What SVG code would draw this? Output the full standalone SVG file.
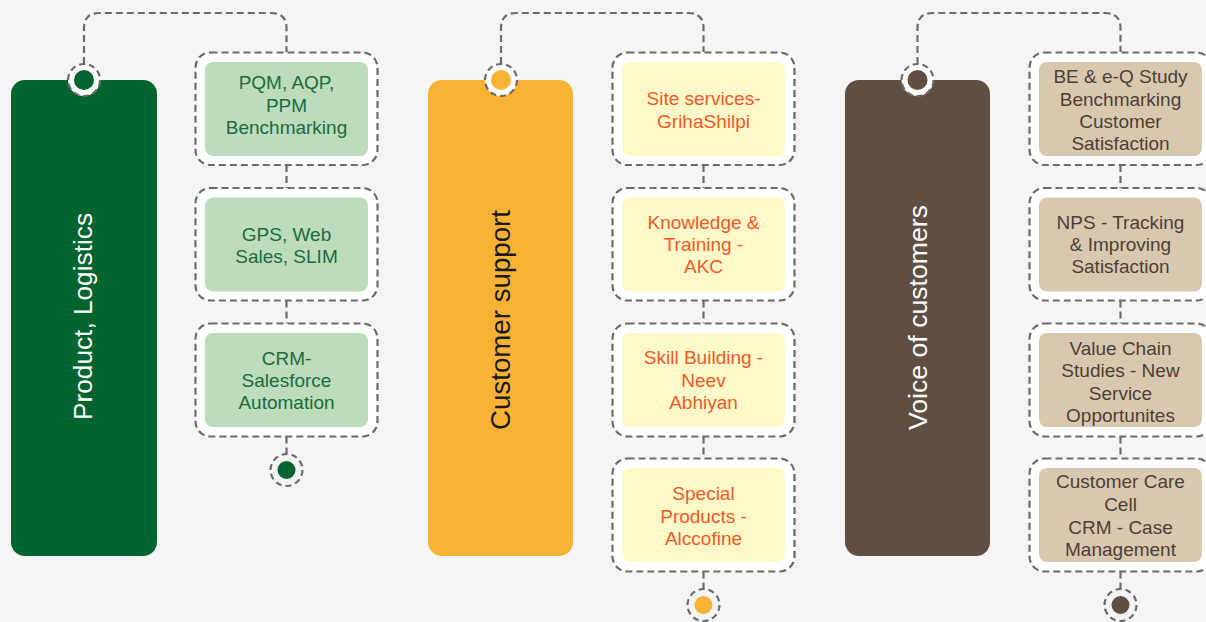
<svg xmlns="http://www.w3.org/2000/svg" width="1206" height="622" viewBox="0 0 1206 622">
<style>
.bg{fill:#f5f5f5}
.dash{fill:none;stroke:#6b6b6b;stroke-width:2.2;stroke-dasharray:7 4}
.outer{fill:#ffffff;stroke:#6b6b6b;stroke-width:2.2;stroke-dasharray:7 4}
.ring{fill:#ffffff;stroke:#6b6b6b;stroke-width:2.2;stroke-dasharray:6 4}
.bring{fill:#f5f5f5;stroke:#6b6b6b;stroke-width:2.2;stroke-dasharray:6 4}
.t{font-family:"Liberation Sans",Arial,sans-serif;font-size:19px;text-anchor:middle}
.v{font-family:"Liberation Sans",Arial,sans-serif;text-anchor:middle}
.g1{fill:#bcdcbc}.c1{fill:#1d6b3c}.k1{fill:#00642f}
.g2{fill:#fff8c8}.c2{fill:#f15a29}.k2{fill:#f9b233}
.g3{fill:#d8c8b0}.c3{fill:#4d3f35}.k3{fill:#5f4e42}
</style>
<rect class="bg" x="0" y="0" width="1206" height="622"/>

<g id="connectors">
<path class="dash" d="M84 64 V28 Q84 13 99 13 H271 Q286.5 13 286.5 28 V52"/>
<path class="dash" d="M286.5 165 V188 M286.5 300.5 V323.5 M286.5 436.5 V454"/>
<path class="dash" d="M501 64 V28 Q501 13 516 13 H688 Q703.5 13 703.5 28 V52"/>
<path class="dash" d="M703.5 165 V188 M703.5 300.5 V323.5 M703.5 436.5 V458.5 M703.5 571.5 V589"/>
<path class="dash" d="M917.5 64 V28 Q917.5 13 932.5 13 H1105 Q1120.5 13 1120.5 28 V52"/>
<path class="dash" d="M1120.5 165 V188 M1120.5 300.5 V323.5 M1120.5 436.5 V458.5 M1120.5 571.5 V589"/>
</g>

<g id="col1-bar">
<rect class="k1" x="11" y="80" width="146" height="476" rx="14"/>
<circle class="ring" cx="84" cy="80" r="16"/>
<circle class="k1" cx="84" cy="80" r="10"/>
<text class="v" fill="#ffffff" font-size="26" transform="translate(92 316.5) rotate(-90)" textLength="207" lengthAdjust="spacingAndGlyphs">Product, Logistics</text>
</g>
<g id="col1-box1">
<rect class="outer" x="195.5" y="52.5" width="182" height="112.5" rx="15"/>
<rect class="g1" x="205" y="62" width="163" height="94" rx="8"/>
<text class="t c1" x="286.5" y="89">PQM, AQP,</text>
<text class="t c1" x="286.5" y="111.5">PPM</text>
<text class="t c1" x="286.5" y="134">Benchmarking</text>
</g>
<g id="col1-box2">
<rect class="outer" x="195.5" y="188" width="182" height="112.5" rx="15"/>
<rect class="g1" x="205" y="197.5" width="163" height="94" rx="8"/>
<text class="t c1" x="286.5" y="241">GPS, Web</text>
<text class="t c1" x="286.5" y="263">Sales, SLIM</text>
</g>
<g id="col1-box3">
<rect class="outer" x="195.5" y="323.5" width="182" height="113" rx="15"/>
<rect class="g1" x="205" y="333" width="163" height="94" rx="8"/>
<text class="t c1" x="286.5" y="365">CRM-</text>
<text class="t c1" x="286.5" y="387">Salesforce</text>
<text class="t c1" x="286.5" y="409">Automation</text>
</g>
<g id="col1-end">
<circle class="bring" cx="286.5" cy="470" r="16"/>
<circle class="k1" cx="286.5" cy="470" r="9"/>
</g>

<g id="col2-bar">
<rect class="k2" x="428" y="80" width="145" height="476" rx="14"/>
<circle class="ring" cx="501" cy="80" r="16"/>
<circle class="k2" cx="501" cy="80" r="10"/>
<text class="v" fill="#1a1a1a" font-size="27.5" transform="translate(510 320) rotate(-90)" textLength="220" lengthAdjust="spacingAndGlyphs">Customer support</text>
</g>
<g id="col2-box1">
<rect class="outer" x="612.5" y="52.5" width="182" height="112.5" rx="15"/>
<rect class="g2" x="622" y="62" width="163" height="94" rx="8"/>
<text class="t c2" x="703.5" y="104.5">Site services-</text>
<text class="t c2" x="703.5" y="127.5">GrihaShilpi</text>
</g>
<g id="col2-box2">
<rect class="outer" x="612.5" y="188" width="182" height="112.5" rx="15"/>
<rect class="g2" x="622" y="197.5" width="163" height="94" rx="8"/>
<text class="t c2" x="703.5" y="229">Knowledge &amp;</text>
<text class="t c2" x="703.5" y="251">Training -</text>
<text class="t c2" x="703.5" y="273">AKC</text>
</g>
<g id="col2-box3">
<rect class="outer" x="612.5" y="323.5" width="182" height="113" rx="15"/>
<rect class="g2" x="622" y="333" width="163" height="94" rx="8"/>
<text class="t c2" x="703.5" y="364">Skill Building -</text>
<text class="t c2" x="703.5" y="386.5">Neev</text>
<text class="t c2" x="703.5" y="409">Abhiyan</text>
</g>
<g id="col2-box4">
<rect class="outer" x="612.5" y="458.5" width="182" height="113" rx="15"/>
<rect class="g2" x="622" y="468" width="163" height="94" rx="8"/>
<text class="t c2" x="703.5" y="500">Special</text>
<text class="t c2" x="703.5" y="522.5">Products -</text>
<text class="t c2" x="703.5" y="544.5">Alccofine</text>
</g>
<g id="col2-end">
<circle class="bring" cx="703.5" cy="605" r="16"/>
<circle class="k2" cx="703.5" cy="605" r="9"/>
</g>

<g id="col3-bar">
<rect class="k3" x="845" y="80" width="145" height="476" rx="14"/>
<circle class="ring" cx="917.5" cy="80" r="16"/>
<circle class="k3" cx="917.5" cy="80" r="10"/>
<text class="v" fill="#ffffff" font-size="26.5" transform="translate(927 317.5) rotate(-90)" textLength="225" lengthAdjust="spacingAndGlyphs">Voice of customers</text>
</g>
<g id="col3-box1">
<rect class="outer" x="1029.5" y="52.5" width="182" height="112.5" rx="15"/>
<rect class="g3" x="1039" y="62" width="163" height="94" rx="8"/>
<text class="t c3" x="1120.5" y="83">BE &amp; e-Q Study</text>
<text class="t c3" x="1120.5" y="105.5">Benchmarking</text>
<text class="t c3" x="1120.5" y="128">Customer</text>
<text class="t c3" x="1120.5" y="150">Satisfaction</text>
</g>
<g id="col3-box2">
<rect class="outer" x="1029.5" y="188" width="182" height="112.5" rx="15"/>
<rect class="g3" x="1039" y="197.5" width="163" height="94" rx="8"/>
<text class="t c3" x="1120.5" y="228.5">NPS - Tracking</text>
<text class="t c3" x="1120.5" y="251">&amp; Improving</text>
<text class="t c3" x="1120.5" y="273">Satisfaction</text>
</g>
<g id="col3-box3">
<rect class="outer" x="1029.5" y="323.5" width="182" height="113" rx="15"/>
<rect class="g3" x="1039" y="333" width="163" height="94" rx="8"/>
<text class="t c3" x="1120.5" y="355">Value Chain</text>
<text class="t c3" x="1120.5" y="377">Studies - New</text>
<text class="t c3" x="1120.5" y="400">Service</text>
<text class="t c3" x="1120.5" y="421.5">Opportunites</text>
</g>
<g id="col3-box4">
<rect class="outer" x="1029.5" y="458.5" width="182" height="113" rx="15"/>
<rect class="g3" x="1039" y="468" width="163" height="94" rx="8"/>
<text class="t c3" x="1120.5" y="488">Customer Care</text>
<text class="t c3" x="1120.5" y="511">Cell</text>
<text class="t c3" x="1120.5" y="534">CRM - Case</text>
<text class="t c3" x="1120.5" y="556">Management</text>
</g>
<g id="col3-end">
<circle class="bring" cx="1120.5" cy="605" r="16"/>
<circle class="k3" cx="1120.5" cy="605" r="9"/>
</g>
</svg>
